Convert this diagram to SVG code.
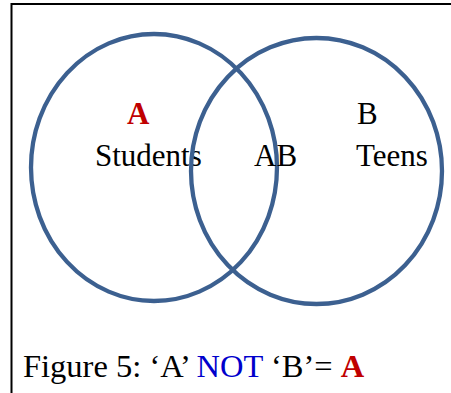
<svg xmlns="http://www.w3.org/2000/svg" width="451" height="393" viewBox="0 0 451 393">
<style>
.frame{stroke:#000;stroke-width:2;fill:none}
.set{fill:none;stroke:#3C6090;stroke-width:4.3}
text{font-family:"Liberation Serif","Times New Roman",serif;font-size:31px;fill:#000}
.cap{font-size:32.5px}
.red{fill:#C00000;font-weight:bold}
.blue{fill:#0000CC}
</style>
<rect width="451" height="393" fill="#fff"/>
<g id="frame"><path class="frame" d="M11.5,393 V4 H451"/></g>
<g id="setA"><ellipse class="set" cx="154" cy="167.5" rx="123" ry="133.5"/><text class="red" x="127" y="124">A</text><text x="95" y="166">Students</text></g>
<g id="setB"><ellipse class="set" cx="316.5" cy="171" rx="125.5" ry="133"/><text x="357" y="124">B</text><text x="356" y="166">Teens</text></g>
<g id="intersection"><text x="254" y="166">AB</text></g>
<g id="caption"><text class="cap" x="23" y="377">Figure 5: ‘A’ <tspan class="blue">NOT</tspan> ‘B’= <tspan class="red">A</tspan></text></g>
</svg>
